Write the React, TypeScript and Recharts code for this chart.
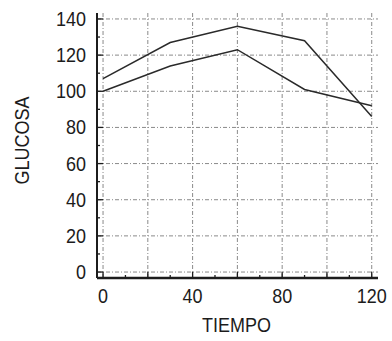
import React from 'react';
import { LineChart, Line, XAxis, YAxis, ReferenceLine, Label } from 'recharts';

const tiempo = [0, 30, 60, 90, 120];
const glucosaAlta = [107, 127, 136, 128, 86];
const glucosaBaja = [100, 114, 123, 101, 92];

const xTicks = [0, 10, 20, 30, 40, 50, 60, 70, 80, 90, 100, 110, 120];
const yTicks = [0, 10, 20, 30, 40, 50, 60, 70, 80, 90, 100, 110, 120, 130, 140];
const xGrid = [0, 20, 40, 60, 80, 100, 120];
const yGrid = [0, 20, 40, 60, 80, 100, 120, 140];
const xLabels = [0, 40, 80, 120];
const yLabels = [0, 20, 40, 60, 80, 100, 120, 140];

const data = tiempo.map((t, i) => ({ t, alta: glucosaAlta[i], baja: glucosaBaja[i] }));

const FONT = '"Liberation Sans", Arial, sans-serif';
const INK = '#1c1c1c';
const GRID = '#8a8a8a';

// text slightly stretched vertically, like the old plotting font
function TallText({ x, y, anchor, size, children, rotate }: any) {
  const t = rotate
    ? `rotate(-90 ${x} ${y}) translate(${x} ${y}) scale(1 1.12) translate(${-x} ${-y})`
    : `translate(${x} ${y}) scale(1 1.12) translate(${-x} ${-y})`;
  return (
    <text x={x} y={y} transform={t} textAnchor={anchor} fontSize={size} fontFamily={FONT} fill={INK}>
      {children}
    </text>
  );
}

function XTick({ x, y, payload }: any) {
  const major = xLabels.includes(payload.value);
  return (
    <g>
      <line x1={x} x2={x} y1={y} y2={y - (xGrid.includes(payload.value) ? 6 : 3)} stroke={INK} strokeWidth={1.3} />
      {major && (
        <TallText x={x} y={y + 25} anchor="middle" size={18}>
          {payload.value}
        </TallText>
      )}
    </g>
  );
}

function YTick({ x, y, payload }: any) {
  const major = yLabels.includes(payload.value);
  return (
    <g>
      <line x1={x} x2={x + (major ? 6 : 3)} y1={y} y2={y} stroke={INK} strokeWidth={1.3} />
      {major && (
        <TallText x={x - 11} y={y + 7} anchor="end" size={18}>
          {payload.value}
        </TallText>
      )}
    </g>
  );
}

export default function App() {
  return (
    <div style={{ position: 'absolute', left: 0, top: 0, background: '#fff' }}>
      <LineChart width={392} height={341} data={data} margin={{ top: 13, right: 14, left: 0, bottom: 0 }}>
        <XAxis
          dataKey="t"
          type="number"
          domain={[-2.7, 122.8]}
          ticks={xTicks}
          interval={0}
          allowDataOverflow
          height={63}
          tickSize={0}
          tickMargin={0}
          tickLine={false}
          tick={<XTick />}
          axisLine={{ stroke: INK, strokeWidth: 2.5 }}
        >
          <Label
            content={({ viewBox }: any) => (
              <TallText x={viewBox.x + viewBox.width / 2 - 1} y={viewBox.y + 54} anchor="middle" size={18}>
                TIEMPO
              </TallText>
            )}
          />
        </XAxis>
        <YAxis
          type="number"
          domain={[-3.3, 143.3]}
          ticks={yTicks}
          interval={0}
          allowDataOverflow
          width={97}
          tickSize={0}
          tickMargin={0}
          tickLine={false}
          tick={<YTick />}
          axisLine={{ stroke: INK, strokeWidth: 2 }}
        >
          <Label
            content={({ viewBox }: any) => (
              <TallText x={29} y={viewBox.y + viewBox.height / 2 - 5} anchor="middle" size={18} rotate>
                GLUCOSA
              </TallText>
            )}
          />
        </YAxis>
        {xGrid.map((v) => (
          <ReferenceLine key={`gx${v}`} x={v} stroke={GRID} strokeWidth={1} strokeDasharray="4 2 1 2" />
        ))}
        {yGrid.map((v) => (
          <ReferenceLine key={`gy${v}`} y={v} stroke={GRID} strokeWidth={1} strokeDasharray="4 2 1 2" />
        ))}
        <Line
          dataKey="alta"
          type="linear"
          stroke="#2a2a2a"
          strokeWidth={1.5}
          dot={false}
          isAnimationActive={false}
        />
        <Line
          dataKey="baja"
          type="linear"
          stroke="#2a2a2a"
          strokeWidth={1.5}
          dot={false}
          isAnimationActive={false}
        />
      </LineChart>
    </div>
  );
}
